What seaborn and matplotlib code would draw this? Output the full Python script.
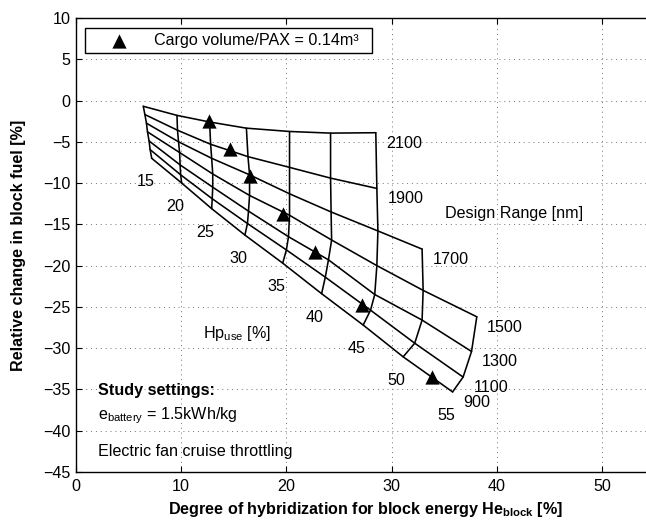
import numpy as np
import pandas as pd
import matplotlib
matplotlib.use("Agg")
import matplotlib.pyplot as plt
import seaborn as sns

# ---------------- data ----------------
hp_use = [15, 20, 25, 30, 35, 40, 45, 50, 55]
design_range = [2100, 1900, 1700, 1500, 1300, 1100, 900]
nan = np.nan
# degree of hybridization He_block [%], one row per design range, columns = hp_use
he_block = [
    [6.40, 9.60, 12.70, 16.20, 20.30, 24.20, 28.50, nan, nan],
    [6.55, 9.65, 12.80, 16.35, 20.30, 24.20, 28.60, nan, nan],
    [6.70, 9.75, 12.90, 16.50, 20.30, 24.25, 28.70, 32.90, nan],
    [6.80, 9.85, 13.00, 16.50, 20.30, 24.30, 28.60, 33.00, 38.10],
    [6.95, 9.90, 13.00, 16.40, 20.20, 24.00, 28.40, 32.90, 37.60],
    [7.05, 9.95, 12.95, 16.30, 20.00, 23.70, 28.00, 32.20, 36.80],
    [7.20, 10.05, 12.90, 16.06, 19.65, 23.35, 27.30, 31.10, 35.80],
]
# relative change in block fuel [%]
fuel_change = [
    [-0.70, -1.80, -2.60, -3.35, -3.75, -3.95, -3.90, nan, nan],
    [-1.70, -3.60, -5.30, -6.80, -8.10, -9.40, -10.65, nan, nan],
    [-2.75, -5.00, -7.00, -9.00, -11.30, -13.50, -15.80, -18.00, nan],
    [-3.80, -6.30, -8.90, -11.50, -13.90, -16.90, -20.00, -23.00, -26.20],
    [-4.90, -7.80, -10.50, -13.40, -16.50, -19.30, -23.50, -26.60, -30.40],
    [-5.95, -9.00, -11.90, -14.90, -18.10, -21.40, -25.40, -29.40, -33.50],
    [-7.00, -10.00, -13.10, -16.30, -19.70, -23.40, -27.20, -31.05, -35.30],
]
# cargo volume / PAX = 0.14 m3 constraint points
cargo_he = [12.6, 14.64, 16.54, 19.65, 22.7, 27.2, 33.8]
cargo_fuel = [-2.5, -5.9, -9.15, -13.75, -18.4, -24.8, -33.5]

x_ticks = [0, 10, 20, 30, 40, 50]
y_ticks = [10, 5, 0, -5, -10, -15, -20, -25, -30, -35, -40, -45]

# ---------------- long table ----------------
rows = []
for i, r in enumerate(design_range):
    for j, h in enumerate(hp_use):
        rows.append(dict(range=r, hp=h, he=he_block[i][j], fuel=fuel_change[i][j]))
df = pd.DataFrame(rows).dropna()
df_r = df.sort_values(["range", "hp"])
df_h = df.sort_values(["hp", "range"], ascending=[True, False])
cargo = pd.DataFrame(dict(he=cargo_he, fuel=cargo_fuel))

# ---------------- style ----------------
sns.set_style("ticks")
plt.rcParams["font.family"] = ["Liberation Sans", "DejaVu Sans"]
plt.rcParams["mathtext.fontset"] = "custom"
plt.rcParams["mathtext.rm"] = "Liberation Sans"
plt.rcParams["mathtext.it"] = "Liberation Sans:italic"
plt.rcParams["mathtext.bf"] = "Liberation Sans:bold"
for k in ["text.color", "axes.labelcolor", "xtick.color", "ytick.color",
          "axes.edgecolor"]:
    plt.rcParams[k] = "black"
FS = 11.6

fig = plt.figure(figsize=(6.46, 5.27), dpi=100)
ax = fig.add_axes([0.1176, 0.1044, 0.8957, 0.8615])

LW = 1.15
sns.lineplot(data=df_r, x="he", y="fuel", units="range", estimator=None,
             sort=False, color="black", lw=LW, ax=ax, legend=False)
sns.lineplot(data=df_h, x="he", y="fuel", units="hp", estimator=None,
             sort=False, color="black", lw=LW, ax=ax, legend=False)
sns.scatterplot(data=cargo, x="he", y="fuel", marker="^", s=105, color="black",
                edgecolor="black", linewidth=0, ax=ax, zorder=5,
                label="Cargo volume/PAX = 0.14m³")

# labels of range lines at their right end
for r in design_range:
    sub = df_r[df_r["range"] == r]
    last = sub.iloc[-1]
    ax.annotate(f"{r}", (last.he, last.fuel), xytext=(7.5, -7.5),
                textcoords="offset points", ha="left", va="center", fontsize=FS,
                color="black")
# labels of Hp lines at their lower end
for h in hp_use:
    sub = df_h[df_h["hp"] == h]
    last = sub.iloc[-1]
    ax.annotate(f"{h}", (last.he, last.fuel), xytext=(-4.7, -17),
                textcoords="offset points", ha="center", va="center", fontsize=FS,
                color="black")

ax.text(35.1, -13.7, "Design Range [nm]", ha="left", va="center", fontsize=FS)
ax.text(12.1, -28.75, r"Hp$_{\mathrm{use}}$ [%]", ha="left", va="baseline", fontsize=FS)
ax.text(2.1, -35.7, "Study settings:", ha="left", va="baseline", fontsize=FS,
        fontweight="bold")
ax.text(2.1, -38.6, r"e$_{\mathrm{battery}}$ = 1.5kWh/kg", ha="left",
        va="baseline", fontsize=FS)
ax.text(2.1, -43.1, "Electric fan cruise throttling", ha="left", va="baseline",
        fontsize=FS)

ax.set_xlim(0, 55)
ax.set_ylim(-45, 10)
ax.set_xticks(x_ticks)
ax.set_yticks(y_ticks)
ax.set_xticklabels([str(t) for t in x_ticks])
ax.set_yticklabels([f"{t}".replace("-", "\u2212") for t in y_ticks])
ax.tick_params(direction="in", length=4, width=0.8, top=True, right=True,
               labelsize=FS, colors="black")
ax.tick_params(axis="x", pad=5)
ax.tick_params(axis="y", pad=4)
ax.grid(True, linestyle=(0, (1, 4)), color="0.45", lw=0.7)
for s in ax.spines.values():
    s.set_linewidth(1.0)
    s.set_color("black")

ax.set_xlabel(r"Degree of hybridization for block energy He$_{\mathbf{block}}$ [%]",
              fontsize=FS, fontweight="bold")
ax.set_ylabel("Relative change in block fuel [%]", fontsize=FS, fontweight="bold")
ax.xaxis.set_label_coords(0.5, -0.062)
ax.yaxis.set_label_coords(-0.087, 0.5)

leg = ax.legend(loc="lower left", bbox_to_anchor=(0.0156, 0.923, 0.496, 0.057),
                mode="expand", borderaxespad=0, frameon=True, fancybox=False,
                edgecolor="black", framealpha=1, fontsize=FS, handlelength=3.6,
                handletextpad=0.4, borderpad=0.3)
leg.get_frame().set_linewidth(1.0)
for t in leg.get_texts():
    t.set_color("black")

fig.savefig("out.png", dpi=100)
